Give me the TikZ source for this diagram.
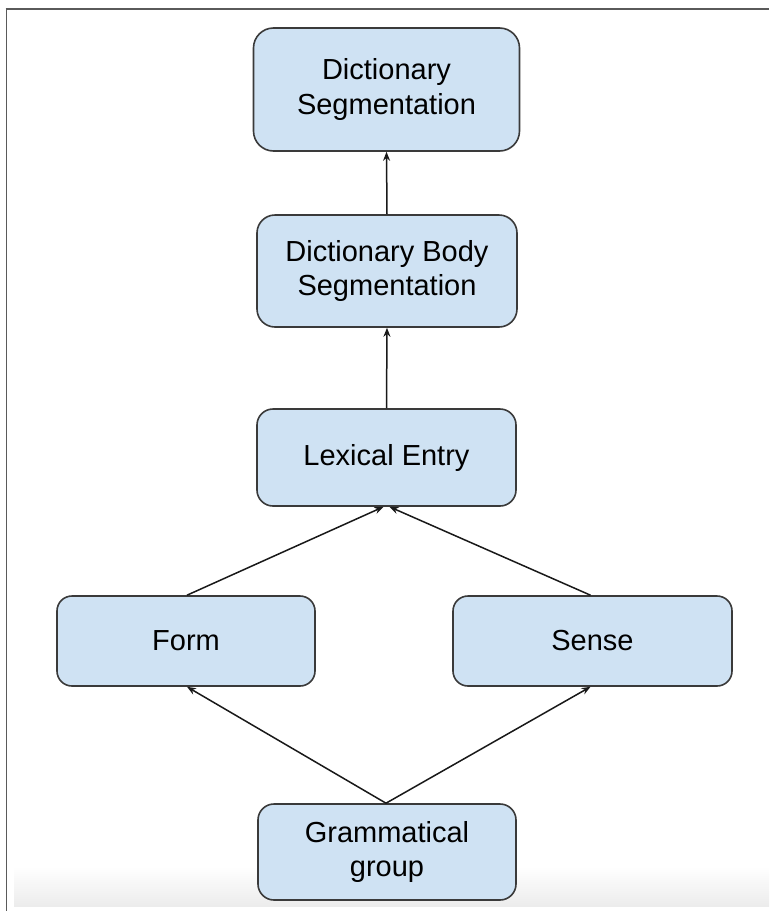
\documentclass[tikz,border=0pt]{standalone}
\usepackage{fontspec}
\setmainfont{Liberation Sans}
\usetikzlibrary{arrows.meta}
\definecolor{boxfill}{HTML}{CFE2F3}
\definecolor{boxline}{HTML}{3A3A3A}
\definecolor{framecol}{HTML}{5A5A5A}
\definecolor{shadebot}{HTML}{ECECEC}
\begin{document}
\begin{tikzpicture}[x=1pt,y=-1pt,
  blockbox/.style={draw=boxline, fill=boxfill, line width=1.6pt, rectangle,
    inner sep=0pt, align=center, text=black,
    font=\fontsize{29}{34.5}\selectfont},
  link/.style={draw=black!90, line width=1.5pt, -{Stealth[length=9pt,width=7pt]}}]
\useasboundingbox (0,0) rectangle (769,911);
\fill[white] (0,0) rectangle (769,911);
\shade[top color=white, bottom color=shadebot] (14,866) rectangle (769,906);
\draw[framecol, line width=2pt] (5.5,8.5) -- (769,8.5);
\draw[framecol, line width=1.6pt] (6.5,8) -- (6.5,911);

\node[blockbox, rounded corners=20pt, minimum width=266pt, minimum height=123pt] (ds) at (386.5,89.5) {Dictionary\\Segmentation};
\node[blockbox, rounded corners=18pt, minimum width=260pt, minimum height=112pt] (dbs) at (387,271) {Dictionary Body\\Segmentation};
\node[blockbox, rounded corners=16pt, minimum width=259pt, minimum height=97pt] (le) at (386.5,457.5) {Lexical Entry};
\node[blockbox, rounded corners=15pt, minimum width=258pt, minimum height=90pt] (form) at (186,641) {Form};
\node[blockbox, rounded corners=15pt, minimum width=279pt, minimum height=90pt] (sense) at (592.5,641) {Sense};
\node[blockbox, rounded corners=16pt, minimum width=258pt, minimum height=96pt] (gg) at (387,852) {Grammatical\\group};

\draw[link] (dbs.north) -- (ds.south);
\draw[link] (le.north) -- (dbs.south);
\draw[link] ([xshift=1pt]form.north) -- ([xshift=-3pt]le.south);
\draw[link] ([xshift=-2pt]sense.north) -- ([xshift=3pt]le.south);
\draw[link] ([xshift=-1pt]gg.north) -- ([xshift=1pt]form.south);
\draw[link] ([xshift=-1pt]gg.north) -- ([xshift=-2pt]sense.south);
\end{tikzpicture}
\end{document}
